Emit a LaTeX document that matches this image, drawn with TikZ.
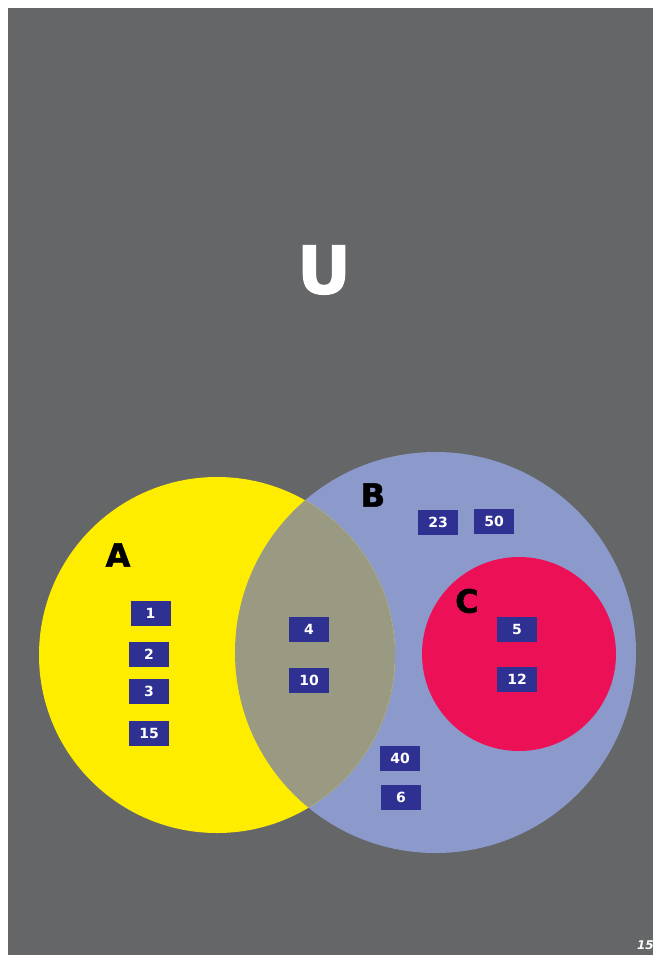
\documentclass[tikz,border=0pt]{standalone}
\usepackage{fontspec}
\setmainfont{DejaVu Sans}
\newfontfamily\heavy[BoldFeatures={FakeBold=1.6}]{DejaVu Sans}
\begin{document}
\begin{tikzpicture}[x=1pt,y=-1pt,
  numbox/.style={fill=boxblue,text=white,minimum width=40pt,minimum height=25pt,inner sep=0pt,font=\fontsize{14}{14}\selectfont\bfseries},
  setlabel/.style={text=black,font=\heavy\fontsize{32}{32}\selectfont\bfseries}]
\definecolor{bg}{HTML}{656668}
\definecolor{ayellow}{HTML}{FFED00}
\definecolor{bblue}{HTML}{8B9ACB}
\definecolor{overlap}{HTML}{9A9A82}
\definecolor{cred}{HTML}{EC1157}
\definecolor{boxblue}{HTML}{2E3192}
\useasboundingbox (0,0) rectangle (653,955);
\fill[white] (0,0) rectangle (653,955);
\fill[bg] (8,8) rectangle (653,955);
% circles
\fill[bblue] (435.5,652.5) circle (200.5);
\fill[ayellow] (217,655) circle (178);
\begin{scope}
  \clip (217,655) circle (178);
  \fill[overlap] (435.5,652.5) circle (200.5);
\end{scope}
\fill[cred] (519,654) circle (97);
% labels
\node[text=white,font=\heavy\fontsize{66}{66}\selectfont\bfseries] (U) at (324,270) {U};
\node[setlabel] (A) at (118,555) {A};
\node[setlabel] (B) at (373,495) {B};
\node[setlabel] (C) at (467,601) {C};
% numbers
\node[numbox] (n1) at (150.5,613.5) {1};
\node[numbox] (n2) at (149,654) {2};
\node[numbox] (n3) at (149,691) {3};
\node[numbox] (n15) at (149,733) {15};
\node[numbox] (n4) at (309,629.5) {4};
\node[numbox] (n10) at (309,680) {10};
\node[numbox] (n23) at (438,522) {23};
\node[numbox] (n50) at (494,521) {50};
\node[numbox] (n5) at (517,629) {5};
\node[numbox] (n12) at (517,679.5) {12};
\node[numbox] (n40) at (400,758) {40};
\node[numbox] (n6) at (401,797.5) {6};
% page number
\node[text=white,anchor=east,inner sep=0pt,font=\fontsize{12}{12}\selectfont\bfseries\itshape] (pg) at (654,945) {15};
\end{tikzpicture}
\end{document}
